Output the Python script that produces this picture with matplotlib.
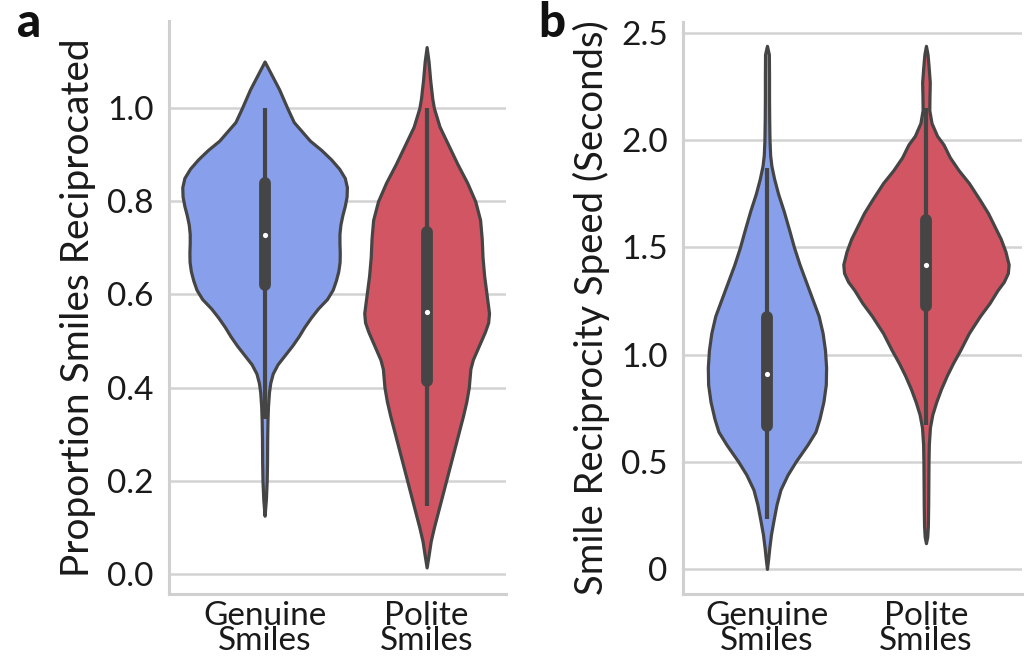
import matplotlib
matplotlib.use("Agg")
import matplotlib.pyplot as plt
import numpy as np

plt.rcParams.update({
    "font.family": ["Lato", "DejaVu Sans"],
    "axes.spines.top": False,
    "axes.spines.right": False,
})

BLUE = "#88A0EC"
RED = "#D15562"
DARK = "#454545"
GRID = "#D3D3D3"

CATS = ["Genuine\nSmiles", "Polite\nSmiles"]

# ── panel a : proportion reciprocated (y, half-width) ──
GEN_A_Y = [1.10, 1.08, 1.04, 1.00, 0.97, 0.95, 0.93, 0.91, 0.89, 0.87, 0.85, 0.83, 0.81,
           0.79, 0.77, 0.75, 0.73, 0.71, 0.69, 0.67, 0.65, 0.63, 0.61, 0.59, 0.57,
           0.55, 0.53, 0.51, 0.49, 0.47, 0.45, 0.43, 0.41, 0.39, 0.36, 0.33, 0.29,
           0.24, 0.20, 0.16, 0.125]
GEN_A_W = [0.0, 0.03, 0.09, 0.14, 0.18, 0.23, 0.28, 0.35, 0.41, 0.46, 0.495, 0.508, 0.506,
           0.495, 0.48, 0.468, 0.462, 0.462, 0.464, 0.463, 0.455, 0.44, 0.42, 0.385, 0.33,
           0.285, 0.245, 0.21, 0.17, 0.125, 0.08, 0.05, 0.035, 0.027, 0.021, 0.018, 0.016,
           0.015, 0.013, 0.008, 0.0]
GEN_A_BOX = [0.333, 0.621, 0.728, 0.840, 1.0]

POL_A_Y = [1.131, 1.10, 1.06, 1.02, 1.00, 0.96, 0.92, 0.88, 0.84, 0.80, 0.76, 0.72, 0.68,
           0.64, 0.60, 0.56, 0.54, 0.52, 0.50, 0.48, 0.46, 0.44, 0.42, 0.40, 0.37, 0.34,
           0.30, 0.26, 0.22, 0.18, 0.14, 0.10, 0.07, 0.04, 0.014]
POL_A_W = [0.0, 0.012, 0.022, 0.035, 0.045, 0.08, 0.135, 0.19, 0.25, 0.30, 0.33, 0.34, 0.345,
           0.355, 0.37, 0.385, 0.38, 0.36, 0.335, 0.31, 0.285, 0.27, 0.265, 0.26, 0.245, 0.225,
           0.195, 0.165, 0.135, 0.105, 0.075, 0.045, 0.025, 0.012, 0.0]
POL_A_BOX = [0.146, 0.415, 0.563, 0.735, 1.0]

# ── panel b : reciprocity speed (y, half-width) ──
GEN_B_Y = [2.44, 2.40, 2.30, 2.20, 2.10, 2.00, 1.93, 1.88, 1.82, 1.75, 1.67, 1.58, 1.50,
           1.42, 1.34, 1.26, 1.18, 1.10, 1.02, 0.94, 0.86, 0.78, 0.70, 0.64, 0.58, 0.50,
           0.44, 0.37, 0.30, 0.23, 0.16, 0.10, 0.05, 0.0]
GEN_B_W = [0.0, 0.012, 0.013, 0.013, 0.014, 0.016, 0.02, 0.028, 0.045, 0.07, 0.105, 0.14, 0.17,
           0.205, 0.245, 0.285, 0.325, 0.35, 0.365, 0.372, 0.37, 0.355, 0.33, 0.305, 0.255, 0.18,
           0.13, 0.085, 0.06, 0.042, 0.025, 0.015, 0.008, 0.0]
GEN_B_BOX = [0.233, 0.668, 0.908, 1.177, 1.87]

POL_B_Y = [2.44, 2.40, 2.34, 2.27, 2.20, 2.14, 2.08, 2.02, 1.98, 1.92, 1.86, 1.80, 1.72,
           1.66, 1.60, 1.54, 1.48, 1.42, 1.38, 1.34, 1.30, 1.24, 1.18, 1.10, 1.02, 0.96,
           0.90, 0.84, 0.78, 0.72, 0.66, 0.58, 0.50, 0.40, 0.30, 0.20, 0.15, 0.12]
POL_B_W = [0.0, 0.01, 0.017, 0.024, 0.022, 0.021, 0.035, 0.07, 0.11, 0.15, 0.205, 0.27, 0.34,
           0.39, 0.43, 0.47, 0.50, 0.52, 0.515, 0.49, 0.45, 0.40, 0.34, 0.27, 0.215, 0.17,
           0.13, 0.095, 0.065, 0.04, 0.025, 0.018, 0.016, 0.015, 0.014, 0.012, 0.008, 0.0]
POL_B_BOX = [0.67, 1.227, 1.417, 1.626, 2.15]

YT_A = [0.0, 0.2, 0.4, 0.6, 0.8, 1.0]
YT_A_LAB = ["0.0", "0.2", "0.4", "0.6", "0.8", "1.0"]
YT_B = [0, 0.5, 1.0, 1.5, 2.0, 2.5]
YT_B_LAB = ["0", "0.5", "1.0", "1.5", "2.0", "2.5"]


def violin(ax, pos, ys, ws, box, color):
    ys = np.asarray(ys)
    ws = np.asarray(ws)
    ax.fill_betweenx(ys, pos - ws, pos + ws, facecolor=color, edgecolor=DARK,
                     linewidth=2.3, zorder=2)
    lo, q1, med, q3, hi = box
    ax.plot([pos, pos], [lo, hi], color=DARK, linewidth=3.0, zorder=3,
            solid_capstyle="butt")
    ax.plot([pos, pos], [q1, q3], color=DARK, linewidth=8.5, zorder=4,
            solid_capstyle="round")
    ax.scatter([pos], [med], s=14, color="white", zorder=5, linewidths=0)


def style(ax, ticks, labels, ylim, xlim, ylabel, ysize):
    ax.set_ylim(*ylim)
    ax.set_xlim(*xlim)
    ax.set_yticks(ticks)
    ax.set_yticklabels(labels)
    ax.set_xticks([0, 1])
    ax.set_xticklabels(CATS, linespacing=0.8)
    ax.tick_params(length=0, labelsize=24, pad=11, labelcolor="#1a1a1a")
    ax.tick_params(axis="x", pad=5)
    ax.set_axisbelow(True)
    ax.grid(axis="y", color=GRID, linewidth=1.8)
    for s in ("left", "bottom"):
        ax.spines[s].set_color("#D0D0D0")
        ax.spines[s].set_linewidth(2.2)
    ax.set_ylabel(ylabel, fontsize=ysize, color="#1a1a1a", labelpad=8)


fig = plt.figure(figsize=(10.26, 6.68), dpi=100)
ax1 = fig.add_axes([0.1647, 0.1108, 0.3285, 0.8578])
ax2 = fig.add_axes([0.6657, 0.1108, 0.3304, 0.8562])

violin(ax1, 0, GEN_A_Y, GEN_A_W, GEN_A_BOX, BLUE)
violin(ax1, 1, POL_A_Y, POL_A_W, POL_A_BOX, RED)
style(ax1, YT_A, YT_A_LAB, (-0.043, 1.187), (-0.59, 1.49),
      "Proportion Smiles Reciprocated", 28)

violin(ax2, 0, GEN_B_Y, GEN_B_W, GEN_B_BOX, BLUE)
violin(ax2, 1, POL_B_Y, POL_B_W, POL_B_BOX, RED)
style(ax2, YT_B, YT_B_LAB, (-0.117, 2.551), (-0.528, 1.604),
      "Smile Reciprocity Speed (Seconds)", 27.5)

fig.text(0.017, 0.945, "a", fontsize=34, fontweight="black", color="#111111")
fig.text(0.525, 0.945, "b", fontsize=34, fontweight="black", color="#111111")

fig.savefig("out.png", dpi=100)
